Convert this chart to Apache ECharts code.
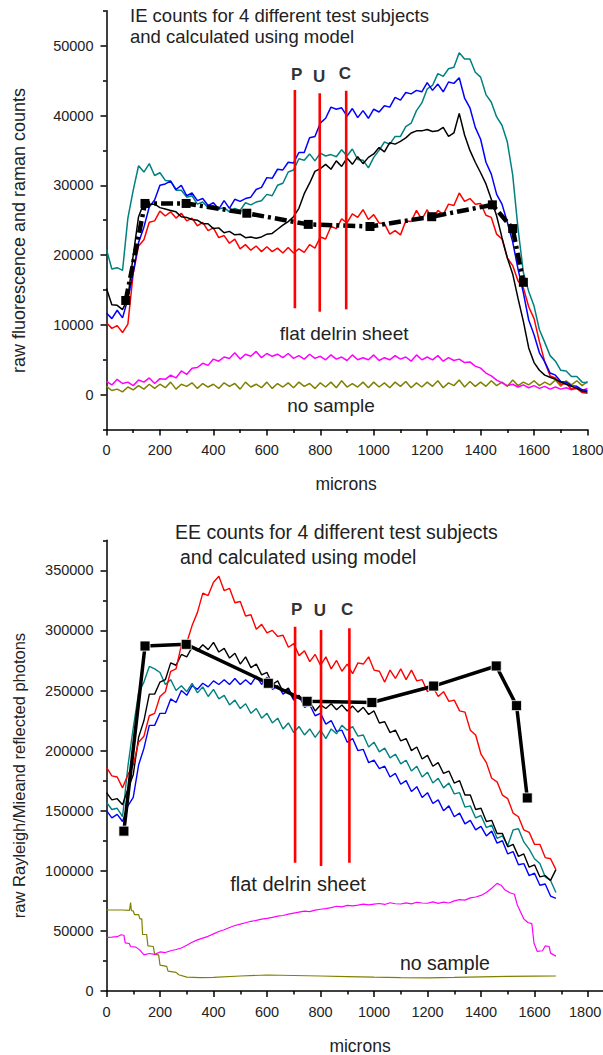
<!DOCTYPE html>
<html>
<head>
<meta charset="utf-8">
<script src="https://cdn.jsdelivr.net/npm/echarts@6/dist/echarts.min.js"></script>
<style>
  html, body { margin: 0; padding: 0; background: #fff; }
  #chart { width: 603px; height: 1055px; }
</style>
</head>
<body>
<div id="chart"></div>
<script>
const FONT = 'Arial, "Liberation Sans", sans-serif';

// ---- sampling grids (microns) ----
const STEP = 20;
const micronsIE = Array.from({ length: 91 }, (_, i) => i * STEP); // 0 .. 1800
const micronsEE = Array.from({ length: 85 }, (_, i) => i * STEP); // 0 .. 1680

// ---- IE counts (raw fluorescence and raman counts) ----
const ieRed = [
  10300, 9500, 9900, 8900, 10100, 17400, 21300, 22200, 24700, 24900,
  26300, 25600, 26200, 25300, 26000, 24900, 25300, 24200, 24700, 23500,
  23900, 22500, 22800, 21700, 22300, 20900, 21500, 20700, 21300, 20500,
  21200, 20500, 21000, 20300, 21100, 20300, 20900, 20400, 21500, 21000,
  22600, 22300, 24100, 23800, 25200, 24600, 25900, 25400, 26500, 25100,
  25800, 24600, 24500, 23000, 23500, 22900, 24900, 24800, 26400, 25100,
  26500, 25000, 26400, 25800, 27300, 27100, 28900, 27700, 28100, 27300,
  27400, 25700, 25400, 23000, 22300, 19600, 18500, 16300, 15300, 12600,
  10900, 7600, 4700, 2700, 2400, 1500, 1600, 800, 900, 300,
  200
];
const ieBlue = [
  11700, 10900, 12100, 11000, 13700, 17500, 21800, 24000, 26900, 27900,
  30000, 30200, 30600, 29400, 30000, 28500, 28900, 27800, 28100, 27100,
  27500, 26600, 27800, 26700, 28000, 27700, 28100, 28300, 29400, 29700,
  31100, 31000, 32300, 32200, 33300, 33200, 34700, 34700, 36800, 37000,
  38900, 39600, 41200, 40900, 41100, 39900, 41000, 39700, 40700, 39600,
  40900, 40500, 41400, 41200, 42600, 42200, 43300, 43100, 43600, 43400,
  44700, 43600, 44500, 43400, 44800, 44600, 45400, 42500, 41100, 38300,
  36600, 33300, 31600, 28700, 27300, 24700, 21900, 18000, 14600, 10700,
  8600, 6000, 4700, 3100, 2800, 1900, 1800, 1300, 1200, 700,
  600
];
const ieTeal = [
  20800, 18000, 18200, 17800, 25300, 29300, 32800, 31900, 33100, 31400,
  31800, 30700, 30600, 29300, 29300, 28300, 28500, 27300, 27600, 26800,
  27100, 26600, 26800, 26200, 26700, 26400, 27500, 27200, 27600, 27800,
  28700, 28500, 30000, 30300, 31900, 32200, 33800, 33600, 34500, 33500,
  34600, 34200, 34400, 34100, 35100, 34200, 35200, 33700, 33600, 32500,
  34000, 35000, 36200, 35900, 37000, 37000, 38400, 38900, 40700, 41800,
  43800, 44300, 46000, 45600, 46700, 46900, 49000, 48100, 48100, 46200,
  45500, 43000, 41900, 39800, 38600, 36200, 31500, 23800, 17500, 14800,
  12700, 9300, 7500, 5600, 4800, 3500, 3400, 2600, 2600, 1800,
  1700
];
const ieBlack = [
  15200, 12900, 12800, 12200, 13800, 20000, 25500, 27500, 27300, 27300,
  26800, 26600, 26400, 26200, 25500, 25400, 25100, 25000, 24500, 24500,
  23800, 23900, 23200, 23400, 22900, 23000, 22500, 22600, 22400, 22600,
  23000, 23100, 23700, 24300, 24800, 25500, 26700, 28800, 30300, 32000,
  32400, 33000, 32300, 33500, 32700, 33900, 33000, 34100, 33100, 34000,
  34500, 35400, 34800, 36100, 35900, 36300, 36800, 37500, 37800, 37800,
  38000, 37700, 37800, 38300, 37000, 37500, 40300, 37200, 35000, 33300,
  31800, 30200, 28000, 25600, 22500, 19600, 17300, 13800, 10500, 6700,
  4600, 3500, 2800, 2500, 2200, 1800, 1500, 1200, 900, 500,
  400
];
const ieDelrin = [
  1900, 1400, 2200, 1600, 1800, 1300, 2100, 1800, 2400, 1600,
  2300, 2200, 2800, 2400, 3400, 2900, 3800, 3900, 4500, 4200,
  5100, 4800, 5400, 5200, 6000, 5100, 5800, 5500, 6200, 5300,
  5900, 5500, 5800, 5300, 5900, 5200, 5600, 5100, 5800, 5200,
  5500, 5000, 5700, 5100, 5400, 4900, 5700, 5000, 5300, 5000,
  5700, 4900, 5300, 5000, 5600, 5100, 5400, 4800, 5700, 5000,
  5400, 5000, 5600, 4800, 5300, 4900, 5100, 4600, 4700, 4100,
  3800, 3100, 2700, 2100, 1700, 1300, 1500, 1100, 1400, 1000,
  1300, 900, 1200, 800, 1100, 800, 1000, 700, 1000, 600,
  900
];
const ieNoSample = [
  1200, 600, 800, 400, 1100, 700, 1300, 800, 1500, 900,
  1500, 1000, 1800, 800, 1500, 1200, 1700, 900, 1600, 1100,
  1500, 900, 1700, 1200, 1600, 800, 1800, 1100, 1500, 1000,
  1800, 900, 1600, 1100, 1700, 1000, 1800, 1200, 1600, 900,
  1700, 1100, 1800, 1000, 2000, 1100, 1600, 1100, 1800, 1000,
  1800, 1100, 1700, 1000, 1800, 1200, 1900, 1000, 1700, 1100,
  1800, 1200, 2000, 1000, 1700, 1300, 2100, 1100, 1900, 1200,
  1800, 1200, 2000, 1300, 1800, 1200, 2100, 1300, 1800, 1400,
  2000, 1300, 1800, 1400, 2100, 1200, 2000, 1400, 2000, 1300,
  1900
];
// model points [microns, counts]
const ieModel = [
  [72, 13500], [144, 27400], [298, 27400], [525, 26000], [755, 24400],
  [986, 24100], [1217, 25500], [1444, 27200], [1520, 23800], [1560, 16100]
];

// ---- EE counts (raw Rayleigh/Mie and reflected photons) ----
const eeRed = [
  186000, 179000, 178000, 169000, 180000, 188000, 207000, 212000, 229000, 231000,
  245000, 249000, 266000, 268000, 288000, 290000, 304000, 315000, 331000, 329000,
  340000, 345000, 333000, 335000, 323000, 324000, 312000, 313000, 301000, 305000,
  298000, 300000, 295000, 296000, 286000, 289000, 279000, 283000, 274000, 280000,
  271000, 278000, 268000, 275000, 266000, 272000, 264000, 273000, 272000, 278000,
  267000, 266000, 257000, 267000, 260000, 268000, 259000, 267000, 258000, 259000,
  249000, 253000, 245000, 249000, 241000, 242000, 233000, 232000, 217000, 213000,
  197000, 190000, 177000, 174000, 163000, 160000, 148000, 145000, 134000, 132000,
  122000, 122000, 111000, 110000, 101000
];
const eeBlack = [
  165000, 159000, 160000, 155000, 168000, 180000, 211000, 225000, 247000, 247000,
  257000, 259000, 273000, 271000, 280000, 278000, 286000, 283000, 288000, 284000,
  290000, 282000, 285000, 277000, 281000, 272000, 278000, 269000, 272000, 263000,
  265000, 255000, 258000, 249000, 252000, 243000, 246000, 237000, 241000, 233000,
  238000, 235000, 239000, 234000, 238000, 233000, 237000, 232000, 236000, 230000,
  233000, 223000, 224000, 215000, 217000, 208000, 210000, 200000, 203000, 193000,
  196000, 187000, 190000, 181000, 183000, 173000, 175000, 163000, 163000, 151000,
  152000, 141000, 142000, 131000, 131000, 120000, 122000, 112000, 114000, 103000,
  105000, 95000, 96000, 92000, 101000
];
const eeBlue = [
  150000, 144000, 147000, 141000, 154000, 161000, 188000, 202000, 221000, 221000,
  231000, 231000, 243000, 240000, 250000, 246000, 254000, 251000, 256000, 253000,
  258000, 255000, 259000, 255000, 260000, 255000, 259000, 255000, 262000, 255000,
  261000, 251000, 254000, 247000, 250000, 242000, 246000, 236000, 238000, 229000,
  231000, 222000, 225000, 216000, 217000, 207000, 210000, 200000, 201000, 190000,
  192000, 185000, 187000, 178000, 181000, 172000, 175000, 166000, 170000, 161000,
  165000, 156000, 159000, 150000, 154000, 145000, 148000, 139000, 142000, 134000,
  137000, 129000, 133000, 123000, 125000, 114000, 116000, 105000, 106000, 96000,
  98000, 88000, 89000, 79000, 77000
];
const eeTeal = [
  157000, 151000, 152000, 145000, 187000, 219000, 248000, 257000, 270000, 268000,
  265000, 255000, 259000, 250000, 254000, 249000, 256000, 248000, 253000, 245000,
  251000, 243000, 246000, 238000, 242000, 235000, 239000, 231000, 235000, 227000,
  231000, 223000, 227000, 218000, 223000, 215000, 220000, 213000, 218000, 211000,
  217000, 210000, 218000, 214000, 221000, 217000, 220000, 212000, 213000, 203000,
  207000, 199000, 202000, 194000, 197000, 189000, 192000, 183000, 187000, 178000,
  182000, 173000, 177000, 169000, 173000, 164000, 165000, 153000, 154000, 144000,
  146000, 136000, 138000, 127000, 129000, 121000, 134000, 135000, 124000, 118000,
  110000, 106000, 95000, 92000, 82000
];
// flat delrin sheet and empty-holder traces [microns, photons]
const eeDelrin = [
  [0, 44600], [20, 44800], [40, 45200], [55, 46800], [65, 46400], [70, 40000],
  [85, 39500], [90, 37000], [110, 36500], [125, 34000], [140, 30000], [160, 31200],
  [180, 30500], [200, 32500], [220, 32000], [240, 33500], [260, 34500], [280, 35800],
  [300, 38000], [320, 40500], [340, 42500], [360, 44000], [380, 45500], [400, 47500],
  [420, 49500], [440, 51000], [460, 52800], [480, 54500], [500, 55600], [520, 56800],
  [540, 58000], [560, 58700], [580, 59800], [600, 60400], [620, 61200], [640, 62300],
  [660, 62800], [680, 64000], [700, 64800], [720, 65600], [740, 66400], [760, 66000],
  [780, 67300], [800, 68000], [820, 68500], [840, 69300], [860, 70500], [880, 70000],
  [900, 71200], [920, 70800], [940, 71500], [960, 72300], [980, 71600], [1000, 72200],
  [1020, 72800], [1040, 72000], [1060, 73400], [1080, 72600], [1100, 72400], [1120, 73300],
  [1140, 72500], [1160, 73800], [1180, 73200], [1200, 73000], [1220, 74200], [1240, 72900],
  [1260, 74000], [1280, 73200], [1300, 75000], [1320, 76000], [1340, 75600], [1360, 77500],
  [1380, 78200], [1400, 79500], [1420, 82000], [1440, 85500], [1460, 89500], [1475, 88000],
  [1490, 84000], [1510, 81500], [1525, 80500], [1535, 72000], [1560, 60000], [1575, 57000],
  [1590, 56000], [1598, 40000], [1610, 33000], [1630, 33500], [1640, 37500], [1655, 37000],
  [1660, 31500], [1680, 29000]
];
const eeNoSample = [
  [0, 67400], [60, 67400], [86, 67000], [90, 73500], [93, 67000], [100, 66500],
  [105, 63500], [120, 63500], [125, 60000], [132, 60000], [135, 47000], [150, 47000],
  [155, 37500], [175, 37000], [180, 30500], [195, 30000], [200, 21500], [225, 20500],
  [230, 16500], [260, 15500], [270, 13500], [300, 11500], [350, 11200], [400, 11300],
  [500, 12500], [600, 13300], [700, 12900], [800, 12500], [900, 12000], [1000, 11500],
  [1100, 11200], [1200, 11000], [1300, 11300], [1400, 11800], [1500, 12100], [1600, 12400],
  [1680, 12500]
];
const eeModel = [
  [65, 133000], [144, 287000], [298, 288400], [605, 256000], [750, 241000],
  [992, 240000], [1223, 253700], [1457, 270400], [1533, 237400], [1573, 160600]
];

// ---- P / U / C positions ----
const pucNames = ['P', 'U', 'C'];
const pucIE = { x: [705, 798, 897], top: [43650, 43180, 43560], bottom: [12380, 11890, 12230],
                labelX: [712, 796, 892], labelY: [45900, 45560, 46050] };
const pucEE = { x: [705, 802, 908], top: [303100, 300300, 301700], bottom: [106700, 104000, 106700],
                labelX: [711, 798, 900], labelY: [317600, 316400, 317600] };

// ---- axis ticks ----
const yTicksIE = [0, 10000, 20000, 30000, 40000, 50000];
const yMinorIE = [-5000, 5000, 15000, 25000, 35000, 45000, 55000];
const yTicksEE = [0, 50000, 100000, 150000, 200000, 250000, 300000, 350000];
const yMinorEE = [25000, 75000, 125000, 175000, 225000, 275000, 325000, 375000];

const pairs = (xs, ys) => ys.map((y, i) => [xs[i], y]);
const plain = (v) => String(v);

const AXIS = { color: '#000', width: 1.5 };
const LABEL = { fontSize: 14.5, color: '#222', fontFamily: FONT, formatter: plain };

function xAxisFor(grid, max, edgeValue) {
  const label = Object.assign({ margin: 13 }, LABEL);
  if (edgeValue !== undefined) {
    // the axis runs on past the page edge: no labels beyond edgeValue, and
    // edgeValue's own label sits left-aligned in a fixed box so it stays on the page
    label.formatter = (v) => (v > edgeValue ? '' : v === edgeValue ? '{e|' + v + '}' : String(v));
    label.rich = { e: { fontSize: 14.5, color: '#222', fontFamily: FONT, width: 38, align: 'left' } };
  }
  return {
    gridIndex: grid, type: 'value', min: 0, max: max, interval: 200,
    axisLine: { show: true, onZero: false, lineStyle: AXIS },
    axisTick: { show: true, length: 6, lineStyle: AXIS },
    minorTick: { show: true, splitNumber: 2, length: 3.5, lineStyle: AXIS },
    axisLabel: label,
    splitLine: { show: false }, minorSplitLine: { show: false }
  };
}
function yAxesFor(grid, min, max, major, minor) {
  return [{
    gridIndex: grid, type: 'value', min: min, max: max, position: 'left',
    axisLine: { show: true, onZero: false, lineStyle: AXIS },
    axisTick: { show: true, length: 6, lineStyle: AXIS, customValues: major },
    axisLabel: Object.assign({ margin: 13, customValues: major }, LABEL),
    splitLine: { show: false }
  }, {
    gridIndex: grid, type: 'value', min: min, max: max, position: 'left',
    axisLine: { show: false },
    axisTick: { show: true, length: 3.5, lineStyle: AXIS, customValues: minor },
    axisLabel: { show: false, customValues: minor },
    splitLine: { show: false }
  }];
}

function trace(name, data, color, xi, yi, width) {
  return {
    name: name, type: 'line', xAxisIndex: xi, yAxisIndex: yi, data: data,
    showSymbol: false, symbol: 'none', silent: true, animation: false,
    lineStyle: { color: color, width: width || 1.5 }
  };
}
function pucLines(p, xi, yi) {
  return p.x.map((x, i) => ({
    type: 'line', xAxisIndex: xi, yAxisIndex: yi, silent: true, animation: false,
    showSymbol: false, symbol: 'none',
    data: [[x, p.top[i]], [x, p.bottom[i]]],
    lineStyle: { color: '#ff0000', width: 2.6 }, z: 5
  }));
}

const option = {
  animation: false,
  backgroundColor: '#fff',
  grid: [
    { left: 106.5, width: 481, top: 10.8, height: 418.8, containLabel: false, outerBoundsMode: 'none' },
    { left: 106.5, width: 535, top: 540.25, height: 450.75, containLabel: false, outerBoundsMode: 'none' }
  ],
  xAxis: [xAxisFor(0, 1800), xAxisFor(1, 2000, 1800)],
  yAxis: [].concat(
    yAxesFor(0, -5000, 55000, yTicksIE, yMinorIE),
    yAxesFor(1, 0, 375000, yTicksEE, yMinorEE)
  ),
  series: [
    // IE panel
    trace('no sample', pairs(micronsIE, ieNoSample), '#808000', 0, 0),
    trace('flat delrin sheet', pairs(micronsIE, ieDelrin), '#ff00ff', 0, 0),
    trace('subject 3', pairs(micronsIE, ieTeal), '#008080', 0, 0),
    trace('subject 4', pairs(micronsIE, ieRed), '#ff0000', 0, 0),
    trace('subject 2', pairs(micronsIE, ieBlue), '#0000ff', 0, 0),
    trace('subject 1', pairs(micronsIE, ieBlack), '#000000', 0, 0),
    {
      name: 'model', type: 'line', xAxisIndex: 0, yAxisIndex: 0, data: ieModel,
      symbol: 'rect', symbolSize: 9, showSymbol: true, silent: true, animation: false,
      itemStyle: { color: '#000' },
      lineStyle: { color: '#000', width: 4.5, type: [12, 4, 3, 4] }, z: 4
    },
    ...pucLines(pucIE, 0, 0),
    // EE panel
    trace('no sample', eeNoSample, '#808000', 1, 2, 1.2),
    trace('flat delrin sheet', eeDelrin, '#ff00ff', 1, 2, 1.2),
    trace('subject 2', pairs(micronsEE, eeBlue), '#0000ff', 1, 2, 1.4),
    trace('subject 3', pairs(micronsEE, eeTeal), '#008080', 1, 2, 1.4),
    trace('subject 1', pairs(micronsEE, eeBlack), '#000000', 1, 2, 1.4),
    trace('subject 4', pairs(micronsEE, eeRed), '#ff0000', 1, 2, 1.4),
    {
      name: 'model', type: 'line', xAxisIndex: 1, yAxisIndex: 2, data: eeModel,
      symbol: 'rect', symbolSize: 10, showSymbol: true, silent: true, animation: false,
      itemStyle: { color: '#000', borderColor: '#fff', borderWidth: 0.8 },
      lineStyle: { color: '#000', width: 3.5 }, z: 4
    },
    ...pucLines(pucEE, 1, 2)
  ]
};

const chart = echarts.init(document.getElementById('chart'), null, { renderer: 'svg', width: 603, height: 1055 });
chart.setOption(option);

// ---- text: titles, axis names, annotations ----
function text(x, y, str, size, opts) {
  const o = opts || {};
  return {
    type: 'text', x: x, y: y, rotation: o.rotation || 0, silent: true, z: 10,
    style: {
      text: str, fontSize: size, fontFamily: FONT, fontWeight: o.weight || 'normal',
      fill: o.fill || '#222',
      align: o.align || 'center', verticalAlign: 'middle',
      textAlign: o.align || 'center', textVerticalAlign: 'middle'
    }
  };
}
function at(grid, x, y) {
  return chart.convertToPixel({ gridIndex: grid }, [x, y]);
}
function dataText(grid, x, y, str, size, opts) {
  const p = at(grid, x, y);
  return text(p[0], p[1], str, size, opts);
}

const graphics = [
  text(130, 15.5, 'IE counts for 4 different test subjects', 18.5, { align: 'left' }),
  text(130, 36, 'and calculated using model', 18.5, { align: 'left' }),
  text(175, 532, 'EE counts for 4 different test subjects', 19.5, { align: 'left' }),
  text(180, 556.5, 'and calculated using model', 19.5, { align: 'left' }),
  text(19, 230.5, 'raw fluorescence and raman counts', 18, { rotation: Math.PI / 2 }),
  text(19, 775.5, 'raw Rayleigh/Mieand reflected photons', 16.5, { rotation: Math.PI / 2 }),
  text(346, 484, 'microns', 17.5),
  text(360, 1046, 'microns', 17.5),
  dataText(0, 889, 8700, 'flat delrin sheet', 19),
  dataText(0, 840, -1580, 'no sample', 19),
  dataText(1, 716, 89000, 'flat delrin sheet', 20),
  dataText(1, 1265, 23300, 'no sample', 19.5)
];
pucNames.forEach((n, i) => {
  graphics.push(dataText(0, pucIE.labelX[i], pucIE.labelY[i], n, 17, { weight: 'bold', fill: '#333' }));
  graphics.push(dataText(1, pucEE.labelX[i], pucEE.labelY[i], n, 17, { weight: 'bold', fill: '#333' }));
});
chart.setOption({ graphic: { elements: graphics } });
</script>
</body>
</html>
